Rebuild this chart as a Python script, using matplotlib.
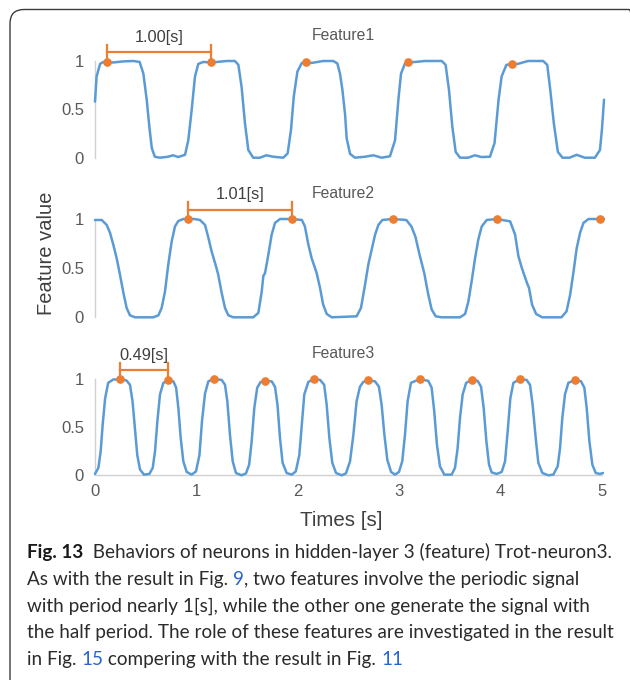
import matplotlib
matplotlib.use("Agg")
import matplotlib.pyplot as plt
from matplotlib.patches import FancyBboxPatch
from matplotlib.transforms import IdentityTransform

# ---------------- data ----------------
feature1_points = [
    (0.00, 0.58), (0.016, 0.84), (0.05, 0.97), (0.082, 0.99), (0.12, 0.985), (0.18, 0.985),
    (0.28, 0.996), (0.378, 1.0), (0.44, 0.99), (0.477, 0.87), (0.51, 0.6), (0.536, 0.32),
    (0.56, 0.1), (0.59, 0.01), (0.64, 0.0), (0.72, 0.01), (0.77, 0.025), (0.82, 0.007),
    (0.888, 0.03), (0.92, 0.18), (0.953, 0.49), (0.986, 0.84), (1.019, 0.97), (1.068, 0.99),
    (1.144, 0.985), (1.20, 0.99), (1.30, 1.0), (1.38, 1.0), (1.414, 0.96), (1.446, 0.73),
    (1.479, 0.355), (1.512, 0.08), (1.56, 0.0), (1.627, 0.0), (1.69, 0.025), (1.758, 0.01),
    (1.857, 0.0), (1.90, 0.045), (1.933, 0.29), (1.96, 0.63), (1.996, 0.89), (2.04, 0.98),
    (2.077, 0.985), (2.136, 0.98), (2.25, 1.0), (2.35, 1.0), (2.39, 0.975), (2.416, 0.87),
    (2.44, 0.7), (2.466, 0.45), (2.482, 0.2), (2.515, 0.04), (2.564, 0.0), (2.663, 0.01),
    (2.745, 0.025), (2.827, 0.0), (2.909, 0.015), (2.959, 0.18), (2.992, 0.6), (3.018, 0.87),
    (3.058, 0.976), (3.09, 0.985), (3.156, 0.99), (3.255, 1.0), (3.42, 1.0), (3.458, 0.96),
    (3.491, 0.7), (3.524, 0.32), (3.557, 0.06), (3.60, 0.0), (3.68, 0.0), (3.747, 0.025),
    (3.81, 0.007), (3.895, 0.01), (3.94, 0.15), (3.98, 0.6), (4.01, 0.84), (4.057, 0.96),
    (4.116, 0.97), (4.17, 0.97), (4.27, 1.0), (4.42, 1.0), (4.46, 0.96), (4.49, 0.7),
    (4.525, 0.355), (4.565, 0.06), (4.61, 0.0), (4.68, 0.0), (4.75, 0.03), (4.83, 0.0),
    (4.93, 0.0), (4.98, 0.08), (5.0, 0.3), (5.02, 0.6),
]
feature2_points = [
    (0.0, 0.99), (0.066, 0.99), (0.115, 0.94), (0.148, 0.86), (0.18, 0.74), (0.214, 0.6),
    (0.247, 0.43), (0.28, 0.25), (0.312, 0.095), (0.345, 0.02), (0.394, 0.0), (0.575, 0.0),
    (0.625, 0.02), (0.657, 0.095), (0.69, 0.26), (0.723, 0.54), (0.756, 0.77), (0.789, 0.925),
    (0.822, 0.98), (0.871, 1.0), (0.92, 1.0), (0.98, 1.0), (1.035, 0.99), (1.085, 0.94),
    (1.118, 0.81), (1.15, 0.67), (1.193, 0.52), (1.216, 0.43), (1.249, 0.25), (1.282, 0.095),
    (1.315, 0.02), (1.364, 0.0), (1.561, 0.0), (1.611, 0.045), (1.644, 0.26), (1.66, 0.42),
    (1.677, 0.45), (1.71, 0.64), (1.742, 0.84), (1.775, 0.96), (1.825, 1.0), (1.943, 1.0),
    (2.04, 0.99), (2.07, 0.925), (2.104, 0.74), (2.137, 0.6), (2.186, 0.45), (2.219, 0.3),
    (2.25, 0.13), (2.285, 0.034), (2.334, 0.0), (2.58, 0.01), (2.623, 0.095), (2.663, 0.33),
    (2.696, 0.54), (2.729, 0.69), (2.762, 0.84), (2.795, 0.94), (2.834, 0.99), (2.935, 1.0),
    (3.07, 0.99), (3.12, 0.925), (3.16, 0.82), (3.2, 0.64), (3.247, 0.45), (3.287, 0.23),
    (3.32, 0.08), (3.36, 0.01), (3.418, 0.0), (3.6, 0.0), (3.65, 0.034), (3.682, 0.16),
    (3.715, 0.37), (3.748, 0.6), (3.78, 0.79), (3.814, 0.925), (3.863, 0.99), (3.962, 1.0),
    (4.094, 0.976), (4.143, 0.84), (4.176, 0.62), (4.21, 0.5), (4.26, 0.35), (4.28, 0.3),
    (4.31, 0.13), (4.35, 0.034), (4.41, 0.0), (4.6, 0.0), (4.65, 0.06), (4.686, 0.23),
    (4.72, 0.47), (4.75, 0.7), (4.784, 0.86), (4.817, 0.96), (4.867, 1.0), (4.985, 1.0),
    (5.02, 1.0),
]
feature3_points = [
    (0.0, 0.014), (0.033, 0.076), (0.056, 0.25), (0.076, 0.53), (0.1, 0.8), (0.13, 0.96),
    (0.18, 0.995), (0.246, 0.995), (0.31, 0.985), (0.345, 0.94), (0.37, 0.77), (0.394, 0.49),
    (0.417, 0.21), (0.444, 0.06), (0.483, 0.007), (0.536, 0.014), (0.569, 0.076), (0.592, 0.25),
    (0.615, 0.56), (0.641, 0.84), (0.674, 0.96), (0.723, 0.985), (0.773, 0.975), (0.8, 0.91),
    (0.822, 0.7), (0.845, 0.39), (0.871, 0.145), (0.904, 0.035), (0.953, 0.007), (0.996, 0.04),
    (1.03, 0.21), (1.055, 0.56), (1.085, 0.85), (1.118, 0.976), (1.17, 1.0), (1.25, 0.99),
    (1.282, 0.94), (1.305, 0.77), (1.331, 0.42), (1.358, 0.145), (1.39, 0.024), (1.446, 0.0),
    (1.489, 0.02), (1.52, 0.11), (1.545, 0.35), (1.571, 0.7), (1.6, 0.91), (1.634, 0.97),
    (1.677, 0.98), (1.742, 0.976), (1.775, 0.92), (1.8, 0.73), (1.824, 0.39), (1.85, 0.13),
    (1.89, 0.024), (1.94, 0.007), (1.98, 0.04), (2.015, 0.21), (2.04, 0.53), (2.064, 0.84),
    (2.104, 0.97), (2.16, 1.0), (2.22, 0.99), (2.26, 0.94), (2.285, 0.73), (2.311, 0.39),
    (2.34, 0.13), (2.377, 0.024), (2.433, 0.0), (2.475, 0.02), (2.515, 0.145), (2.548, 0.42),
    (2.58, 0.77), (2.613, 0.92), (2.646, 0.97), (2.695, 0.985), (2.761, 0.976), (2.8, 0.92),
    (2.827, 0.73), (2.854, 0.42), (2.883, 0.16), (2.92, 0.035), (2.959, 0.007), (2.998, 0.035),
    (3.03, 0.145), (3.057, 0.42), (3.083, 0.77), (3.116, 0.96), (3.205, 1.0), (3.287, 0.98),
    (3.32, 0.91), (3.346, 0.66), (3.372, 0.32), (3.402, 0.093), (3.445, 0.007), (3.517, 0.007),
    (3.55, 0.076), (3.576, 0.28), (3.6, 0.6), (3.626, 0.84), (3.66, 0.96), (3.715, 0.99),
    (3.774, 0.98), (3.807, 0.92), (3.833, 0.7), (3.86, 0.35), (3.886, 0.11), (3.912, 0.03),
    (3.962, 0.014), (4.011, 0.035), (4.044, 0.145), (4.07, 0.46), (4.096, 0.8), (4.126, 0.96),
    (4.191, 1.0), (4.257, 0.99), (4.29, 0.94), (4.316, 0.73), (4.346, 0.39), (4.372, 0.13),
    (4.412, 0.024), (4.47, 0.0), (4.52, 0.007), (4.563, 0.093), (4.586, 0.28), (4.609, 0.6),
    (4.635, 0.84), (4.668, 0.96), (4.734, 0.99), (4.793, 0.976), (4.826, 0.91), (4.849, 0.7),
    (4.876, 0.35), (4.905, 0.11), (4.938, 0.024), (4.98, 0.014), (5.01, 0.024),
]

feature1_peak_times = [0.12, 1.144, 2.077, 3.09, 4.116]
feature1_peak_values = [0.985, 0.985, 0.985, 0.985, 0.97]
feature2_peak_times = [0.92, 1.943, 2.935, 3.962, 4.985]
feature2_peak_values = [1.0, 1.0, 1.0, 1.0, 1.0]
feature3_peak_times = [0.246, 0.723, 1.17, 1.677, 2.16, 2.695, 3.205, 3.715, 4.191, 4.734]
feature3_peak_values = [0.995, 0.985, 1.005, 0.98, 1.0, 0.985, 1.0, 0.99, 1.0, 0.99]

feature_titles = ["Feature1", "Feature2", "Feature3"]
period_labels = ["1.00[s]", "1.01[s]", "0.49[s]"]
y_ticks = [0, 0.5, 1]
y_tick_labels = ["0", "0.5", "1"]
x_ticks = [0, 1, 2, 3, 4, 5]
x_tick_labels = ["0", "1", "2", "3", "4", "5"]

caption_lines = [
    [("Fig. 13", "bold", "k"), ("  Behaviors of neurons in hidden-layer 3 (feature) Trot-neuron3.", "normal", "t")],
    [("As with the result in Fig. ", "normal", "t"), ("9", "normal", "l"),
     (", two features involve the periodic signal", "normal", "t")],
    [("with period nearly 1[s], while the other one generate the signal with", "normal", "t")],
    [("the half period. The role of these features are investigated in the result", "normal", "t")],
    [("in Fig. ", "normal", "t"), ("15", "normal", "l"), (" compering with the result in Fig. ", "normal", "t"),
     ("11", "normal", "l")],
]

# ---------------- styling ----------------
W, H = 630, 680
BLUE = "#5B9BD5"
ORANGE = "#ED7D31"
AXIS_GRAY = "#D0D0D0"
TICK_GRAY = "#595959"
LABEL_GRAY = "#404040"
CAP_COLOR = {"k": "#1a1a1a", "t": "#2b2b2b", "l": "#2a62d6"}

plt.rcParams["font.family"] = ["Liberation Sans", "DejaVu Sans"]
fig = plt.figure(figsize=(W / 100, H / 100), dpi=100)
fig.patch.set_facecolor("white")

# frame around the figure (pixels)
frame = FancyBboxPatch((10, -30), 633, H - 9.5 + 30,
                       boxstyle="round,pad=0,rounding_size=14",
                       transform=IdentityTransform(), facecolor="none",
                       edgecolor="#3c3c3c", linewidth=1.0, zorder=0)
fig.patches.append(frame)

# panel pixel geometry: (y of value 1, y of value 0) in image coordinates
panel_px = [(61.0, 157.7), (219.0, 317.3), (379.0, 475.3)]
x_left, x_right = 95.0, 602.0

series = [feature1_points, feature2_points, feature3_points]
peaks = [(feature1_peak_times, feature1_peak_values),
         (feature2_peak_times, feature2_peak_values),
         (feature3_peak_times, feature3_peak_values)]

axes = []
for i, (ytop, ybot) in enumerate(panel_px):
    ax = fig.add_axes([x_left / W, 1 - ybot / H, (x_right - x_left) / W, (ybot - ytop) / H])
    ax.set_xlim(0, 5)
    ax.set_ylim(0, 1)
    ax.patch.set_alpha(0)
    for s in ["top", "right"]:
        ax.spines[s].set_visible(False)
    ax.spines["left"].set_color(AXIS_GRAY)
    ax.spines["left"].set_linewidth(1.0)
    if i == 2:
        ax.spines["bottom"].set_color(AXIS_GRAY)
        ax.spines["bottom"].set_linewidth(1.0)
        ax.set_xticks(x_ticks)
        ax.set_xticklabels(x_tick_labels)
    else:
        ax.spines["bottom"].set_visible(False)
        ax.set_xticks([])
    ax.set_yticks(y_ticks)
    ax.set_yticklabels(y_tick_labels)
    ax.tick_params(axis="both", length=0, labelsize=12, labelcolor=TICK_GRAY, pad=8)
    ax.tick_params(axis="x", pad=6)

    ts = [p[0] for p in series[i]]
    vs = [p[1] for p in series[i]]
    ax.plot(ts, vs, color=BLUE, lw=1.8, clip_on=False, solid_joinstyle="round",
            solid_capstyle="round", zorder=3)
    pt, pv = peaks[i]
    ax.plot(pt, pv, "o", color=ORANGE, ms=5.2, clip_on=False, zorder=4)

    # period bracket between first two peaks
    t0, t1 = pt[0], pt[1]
    ax.plot([t0, t1], [1.095, 1.095], color=ORANGE, lw=1.6, clip_on=False, zorder=4)
    ax.plot([t0, t0], [pv[0], 1.17], color=ORANGE, lw=1.6, clip_on=False, zorder=4)
    ax.plot([t1, t1], [pv[1], 1.17], color=ORANGE, lw=1.6, clip_on=False, zorder=4)
    ax.text((t0 + t1) / 2, 1.245, period_labels[i], ha="center", va="center",
            fontsize=11.8, color=LABEL_GRAY, clip_on=False)
    ax.text(2.45, 1.26, feature_titles[i], ha="center", va="center",
            fontsize=11.3, color=TICK_GRAY, clip_on=False)
    axes.append(ax)

fig.text(46 / W, 1 - 253 / H, "Feature value", rotation=90, ha="center", va="center",
         fontsize=14.5, color=LABEL_GRAY)
fig.text(341 / W, 1 - 521 / H, "Times [s]", ha="center", va="center",
         fontsize=14.8, color=LABEL_GRAY)

# ---------------- caption ----------------
renderer = fig.canvas.get_renderer()
CAP_FONT = ["Lato", "DejaVu Sans"]


def text_width(s, size, weight):
    t = fig.text(0, 0, s, fontsize=size, fontweight=weight, family=CAP_FONT)
    w = t.get_window_extent(renderer).width
    t.remove()
    return w


# fit first line width to the reference (x 27 -> 612 px)
probe = 10.0
w_probe = (text_width("Fig. 13", probe, "bold")
           + text_width("  Behaviors of neurons in hidden-layer 3 (feature) Trot-neuron3.", probe, "normal"))
cap_size = probe * (612 - 27) / w_probe

cap_x0 = 27
cap_baseline0 = 558
cap_step = 26.7
for li, segs in enumerate(caption_lines):
    yb = cap_baseline0 + li * cap_step
    x = cap_x0
    for s, weight, ck in segs:
        fig.text(x / W, 1 - yb / H, s, fontsize=cap_size, fontweight=weight,
                 family=CAP_FONT, color=CAP_COLOR[ck], ha="left", va="baseline")
        # advance with a trailing-space-safe measure
        x += text_width(s + "|", cap_size, weight) - text_width("|", cap_size, weight)

fig.savefig("out.png", dpi=100, facecolor="white")
